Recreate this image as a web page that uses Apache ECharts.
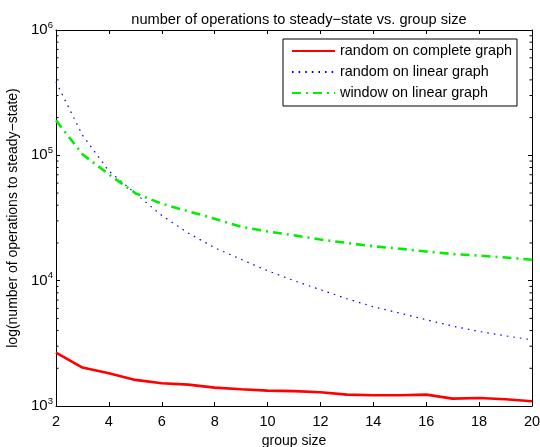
<!DOCTYPE html>
<html>
<head>
<meta charset="utf-8">
<script src="https://cdn.jsdelivr.net/npm/echarts@6/dist/echarts.min.js"></script>
<style>
html, body { margin: 0; padding: 0; background: #fff; }
#chart { width: 540px; height: 447px; }
</style>
</head>
<body>
<div id="chart"></div>
<script>
var dom = document.getElementById("chart");
var myChart = echarts.init(dom);

// group size on x
var groupSize = [2, 3, 4, 5, 6, 7, 8, 9, 10, 11, 12, 13, 14, 15, 16, 17, 18, 19, 20];
// operations to steady-state
var randomComplete = [2670, 2025, 1825, 1615, 1518, 1482, 1402, 1360, 1326, 1314, 1286, 1232, 1218, 1218, 1232, 1145, 1158, 1131, 1090];
var randomLinear = [385000, 145000, 75000, 49700, 33100, 24000, 18300, 14800, 12000, 10000, 8470, 7180, 6190, 5510, 4880, 4340, 3930, 3630, 3370];
var windowLinear = [190000, 102000, 70500, 49900, 41100, 35800, 31200, 26900, 24700, 23000, 21300, 20000, 18800, 18000, 17100, 16300, 15850, 15300, 14700];
var seriesNames = ['random on complete graph', 'random on linear graph', 'window on linear graph'];
var yMinorTicks = [2000, 3000, 4000, 5000, 6000, 7000, 8000, 9000,
    20000, 30000, 40000, 50000, 60000, 70000, 80000, 90000,
    200000, 300000, 400000, 500000, 600000, 700000, 800000, 900000];

var font = 'Liberation Sans, Arial, Helvetica, sans-serif';

function pairs(ys) {
    return groupSize.map(function (x, i) { return [x, ys[i]]; });
}

var axisLine = { show: true, onZero: false, lineStyle: { color: '#000', width: 1 } };
var tick = { inside: true, length: 4, lineStyle: { color: '#000' } };

option = {
    animation: false,
    backgroundColor: '#fff',
    title: {
        text: 'number of operations to steady\u2212state vs. group size',
        left: 294,
        top: 7,
        textAlign: 'center',
        textStyle: { fontFamily: font, fontSize: 14.6, fontWeight: 'normal', color: '#000' }
    },
    legend: {
        data: seriesNames,
        orient: 'vertical',
        left: 283,
        top: 39,
        padding: [4, 5, 5, 8],
        itemWidth: 43,
        itemHeight: 16,
        itemGap: 5,
        borderColor: '#000',
        borderWidth: 1,
        backgroundColor: '#fff',
        itemStyle: { opacity: 0 },
        textStyle: { fontFamily: font, fontSize: 14.4, lineHeight: 16, color: '#000' }
    },
    grid: { left: 56, right: 8, top: 30, bottom: 41, outerBoundsMode: 'none', containLabel: false },
    xAxis: [{
        type: 'value',
        min: 2,
        max: 20,
        interval: 2,
        name: 'group size',
        nameLocation: 'middle',
        nameGap: 21,
        nameTextStyle: { fontFamily: font, fontSize: 14, color: '#000' },
        axisLine: axisLine,
        axisTick: tick,
        axisLabel: { fontFamily: font, fontSize: 14.5, color: '#000', margin: 8 },
        splitLine: { show: false }
    }, {
        type: 'value',
        position: 'top',
        min: 2,
        max: 20,
        interval: 2,
        axisLine: axisLine,
        axisTick: tick,
        axisLabel: { show: false },
        splitLine: { show: false }
    }],
    yAxis: [{
        type: 'log',
        logBase: 10,
        min: 1000,
        max: 1000000,
        name: 'log(number of operations to steady\u2212state)',
        nameLocation: 'middle',
        nameGap: 36,
        nameTextStyle: { fontFamily: font, fontSize: 14, color: '#000' },
        axisLine: axisLine,
        axisTick: tick,
        axisLabel: {
            margin: 3,
            color: '#000',
            fontFamily: font,
            fontSize: 15,
            formatter: function (v) {
                return '10{sup|' + Math.round(Math.log10(v)) + '}';
            },
            rich: {
                sup: { fontFamily: font, fontSize: 9.5, color: '#000', verticalAlign: 'bottom', padding: [0, 0, 10, 0] }
            }
        },
        splitLine: { show: false }
    }, {
        type: 'log',
        logBase: 10,
        min: 1000,
        max: 1000000,
        position: 'right',
        axisLine: axisLine,
        axisTick: tick,
        axisLabel: { show: false },
        splitLine: { show: false }
    }],
    series: [{
        name: seriesNames[0],
        type: 'line',
        data: pairs(randomComplete),
        symbol: 'none',
        lineStyle: { color: '#ff0000', width: 2.6, type: 'solid' },
        itemStyle: { color: '#ff0000' },
        z: 4
    }, {
        name: seriesNames[1],
        type: 'line',
        data: pairs(randomLinear),
        symbol: 'none',
        lineStyle: { color: '#0000ff', width: 1.2, type: [1.6, 5] },
        itemStyle: { color: '#0000ff' },
        z: 3
    }, {
        name: seriesNames[2],
        type: 'line',
        data: pairs(windowLinear),
        symbol: 'none',
        lineStyle: { color: '#00ee00', width: 2.6, type: [9, 5, 2, 5] },
        itemStyle: { color: '#00ee00' },
        z: 3
    }, {
        // minor ticks of the log axis, both sides
        type: 'custom',
        silent: true,
        data: yMinorTicks.map(function (v) { return [v]; }),
        renderItem: function (params, api) {
            var l = api.coord([groupSize[0], api.value(0)]);
            var r = api.coord([groupSize[groupSize.length - 1], api.value(0)]);
            var st = { stroke: '#000', lineWidth: 1 };
            return {
                type: 'group',
                children: [
                    { type: 'line', shape: { x1: l[0], y1: l[1], x2: l[0] + 2.5, y2: l[1] }, style: st },
                    { type: 'line', shape: { x1: r[0], y1: r[1], x2: r[0] - 2.5, y2: r[1] }, style: st }
                ]
            };
        },
        encode: { y: 0 },
        z: 1
    }]
};

if (option && typeof option === "object") {
    myChart.setOption(option, true);
}

window.addEventListener("resize", function () {
    myChart.resize();
});
</script>
</body>
</html>
